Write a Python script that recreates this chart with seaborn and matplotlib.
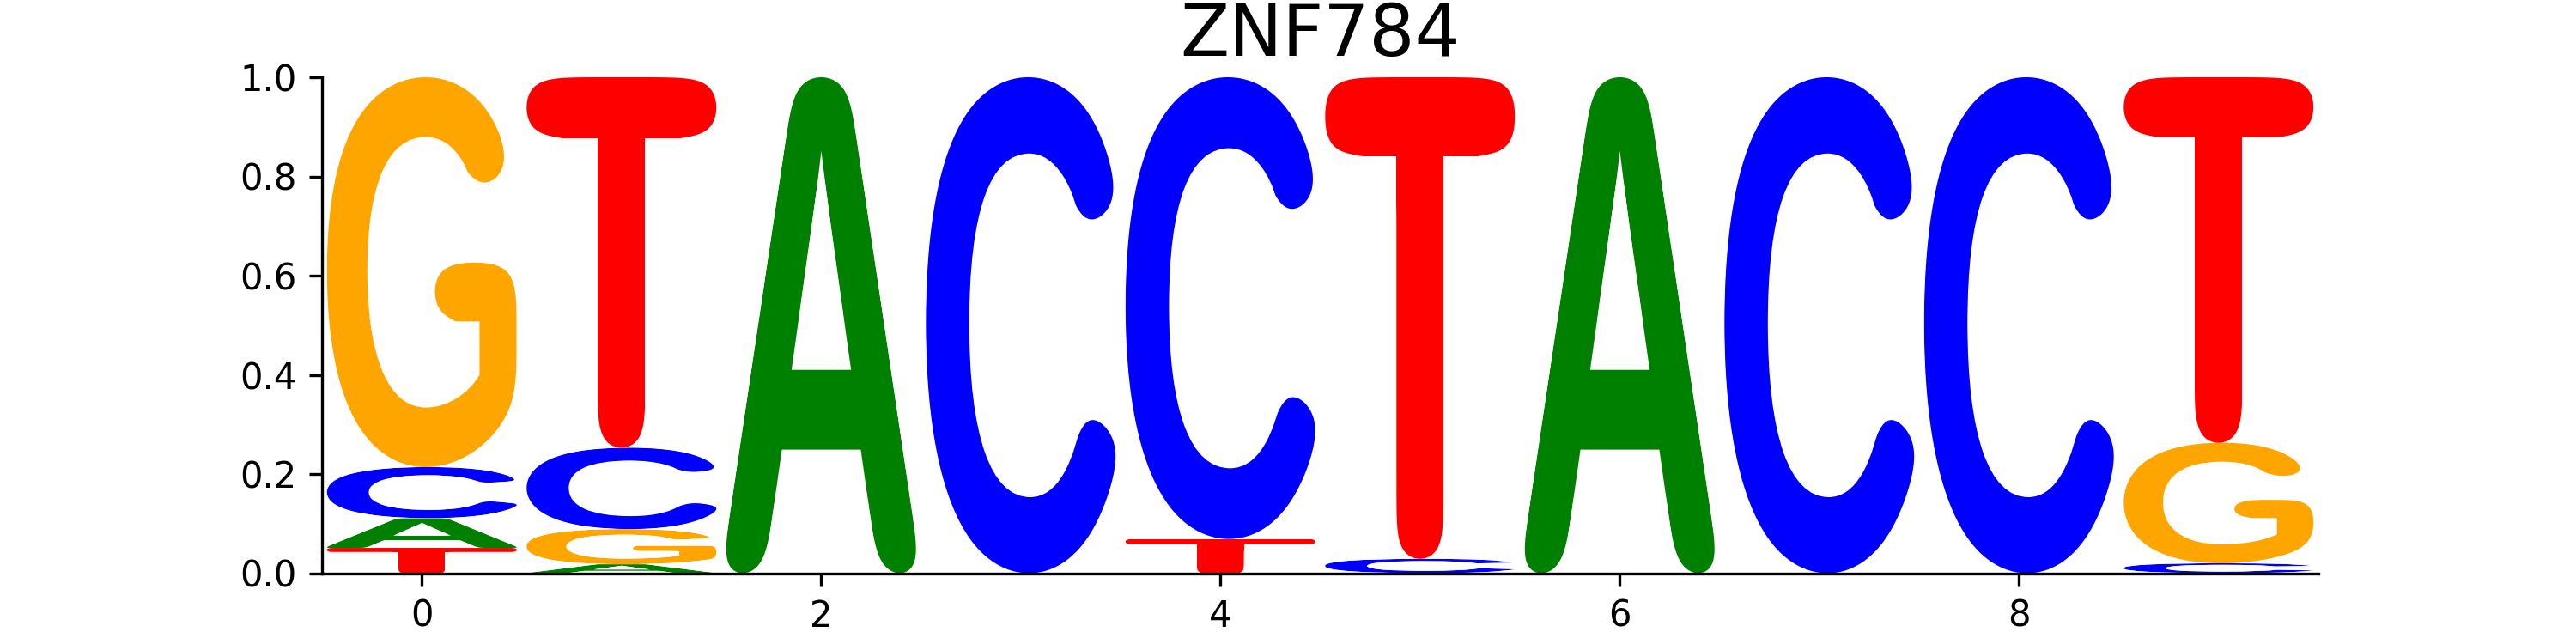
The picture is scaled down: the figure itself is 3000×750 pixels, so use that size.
import numpy as np
import pandas as pd
import matplotlib
matplotlib.use('Agg')
from matplotlib import pyplot as plt
from matplotlib.textpath import TextPath
from matplotlib.font_manager import FontProperties
from matplotlib.patches import PathPatch
from matplotlib.path import Path
from matplotlib.transforms import Affine2D
import seaborn as sns


positions = list(range(10))
prob_A = [0.060, 0.018, 1.000, 0.000, 0.000, 0.000, 1.000, 0.000, 0.000, 0.000]
prob_C = [0.103, 0.164, 0.000, 1.000, 0.931, 0.029, 0.000, 1.000, 1.000, 0.020]
prob_G = [0.786, 0.071, 0.000, 0.000, 0.000, 0.000, 0.000, 0.000, 0.000, 0.243]
prob_T = [0.051, 0.747, 0.000, 0.000, 0.069, 0.971, 0.000, 0.000, 0.000, 0.737]
title = 'ZNF784'

colors = {'A': 'green', 'C': 'blue', 'G': 'orange', 'T': 'red'}
letter_width = 0.95
font = FontProperties(family='Liberation Sans', weight='bold')

df = pd.DataFrame({'A': prob_A, 'C': prob_C, 'G': prob_G, 'T': prob_T}, index=positions)


def resample(ring, step=0.5):
    pts = np.vstack([ring, ring[:1]])
    seg = np.hypot(*np.diff(pts, axis=0).T)
    s = np.concatenate([[0], np.cumsum(seg)])
    n = max(int(s[-1] / step), 8)
    t = np.linspace(0, s[-1], n, endpoint=False)
    out = np.column_stack([np.interp(t, s, pts[:, 0]), np.interp(t, s, pts[:, 1])])
    return out, s[-1] / n


def smooth(ring, sigma):
    pts, ds = resample(ring)
    sig_n = sigma / ds
    if sig_n < 0.5:
        return pts
    k = np.fft.fftfreq(len(pts))
    g = np.exp(-2 * (np.pi * k * sig_n) ** 2)
    return np.real(np.fft.ifft(np.fft.fft(pts, axis=0) * g[:, None], axis=0))


def to_path(rings, lo, hi, x, floor, height):
    verts, codes = [], []
    for r in rings:
        r = (r - lo) / (hi - lo)
        r[:, 0] = x - letter_width / 2 + r[:, 0] * letter_width
        r[:, 1] = floor + r[:, 1] * height
        verts.extend(r.tolist())
        verts.append(r[0].tolist())
        codes.extend([Path.MOVETO] + [Path.LINETO] * (len(r) - 1) + [Path.CLOSEPOLY])
    return Path(verts, codes)


def glyph(ax, ch, x, floor, height, color):
    # size of the letter box in pixels
    p0 = ax.transData.transform((0, 0))
    p1 = ax.transData.transform((1, 1))
    sx, sy = p1 - p0
    w_px, h_px = letter_width * sx, height * sy

    tp = TextPath((0, 0), ch, size=1, prop=font)
    ext = tp.get_extents()
    tr = Affine2D().translate(-ext.x0, -ext.y0).scale(w_px / ext.width, h_px / ext.height)
    rings, soft = [], []
    for ring in tp.transformed(tr).to_polygons(closed_only=True):
        if np.allclose(ring[0], ring[-1]):
            ring = ring[:-1]
        rings.append(ring)
        soft.append(smooth(ring, 0.13 * min(w_px, h_px)))

    allpts = np.vstack(soft)
    lo, hi = allpts.min(axis=0), allpts.max(axis=0)
    # round the outer corners only: smoothed outline clipped by the sharp one
    patch = PathPatch(to_path(soft, lo, hi, x, floor, height),
                      facecolor=color, edgecolor='none', lw=0)
    ax.add_patch(patch)
    patch.set_clip_path(to_path(rings, lo, hi, x, floor, height), ax.transData)


fig, ax = plt.subplots(figsize=(10, 2.5), dpi=300)
ax.set_xlim(-0.5, 9.5)
ax.set_ylim(0, 1)

for pos, row in df.iterrows():
    floor = 0.0
    for ch, val in row.sort_values().items():
        if val <= 0:
            continue
        glyph(ax, ch, pos, floor, val, colors[ch])
        floor += val

ax.set_title(title, fontsize=20)
sns.despine(ax=ax)

fig.savefig('out.png', dpi=300)
